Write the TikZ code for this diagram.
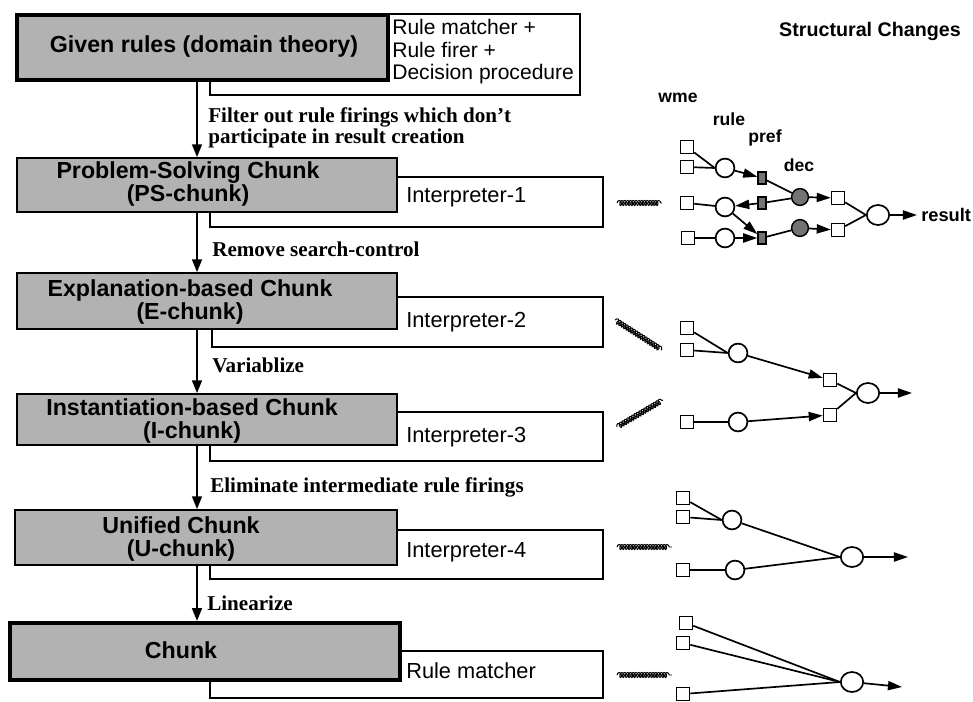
\documentclass[tikz,border=0pt]{standalone}
\usepackage{fontspec}
\setmainfont{Liberation Serif}
\setsansfont{Liberation Sans}
\usetikzlibrary{arrows.meta,fit,decorations.pathmorphing,shapes.geometric}

\tikzset{
  chunkbox/.style={draw, line width=1.3pt, fill=black!30, inner sep=0pt},
  mainbox/.style={chunkbox, line width=3pt},
  interpbox/.style={draw, line width=1.1pt, fill=white, inner sep=0pt},
  chunktext/.style={font=\sffamily\bfseries\fontsize{16.5}{17}\selectfont, align=center, inner sep=0pt},
  interptext/.style={font=\sffamily\fontsize{15.5}{16}\selectfont, anchor=base west, inner sep=0pt},
  steptext/.style={font=\bfseries\fontsize{15}{10}\selectfont, anchor=base west, align=left, inner sep=0pt},
  flow/.style={-{Triangle[length=9pt,width=7pt]}, line width=1.3pt},
  wme/.style={draw, rectangle, line width=1.2pt, fill=white, minimum size=0.32cm, inner sep=0pt},
  rulenode/.style={draw, circle, line width=1.2pt, fill=white, minimum size=0.47cm, inner sep=0pt},
  prefnode/.style={draw, rectangle, line width=1pt, fill=black!55, minimum width=0.2cm, minimum height=0.3cm, inner sep=0pt},
  decnode/.style={draw, circle, line width=1pt, fill=black!55, minimum size=0.42cm, inner sep=0pt},
  endnode/.style={draw, ellipse, line width=1.2pt, fill=white, minimum width=0.56cm, minimum height=0.5cm, inner sep=0pt},
  link/.style={line width=1.2pt},
  fire/.style={line width=1.2pt, -{Triangle[length=10pt,width=6.5pt]}},
  tie/.style={decorate, decoration={coil, aspect=0.6, segment length=2pt, amplitude=1.8pt}, line width=0.7pt},
  netlabel/.style={font=\sffamily\bfseries\fontsize{12.5}{13}\selectfont, inner sep=0pt},
  title/.style={font=\sffamily\bfseries\fontsize{14}{15}\selectfont, inner sep=0pt},
}

\begin{document}
\begin{tikzpicture}[x=0.025cm, y=-0.025cm]
\useasboundingbox (0,0) rectangle (973,702);

% interpreter boxes (behind the chunk boxes)
\node[interpbox, fit={(210,14) (580,95)}] (rm0) {};
\node[interpbox, fit={(210,177) (603,227)}] (ip1) {};
\node[interpbox, fit={(212,297) (603,347)}] (ip2) {};
\node[interpbox, fit={(210,412) (603,461)}] (ip3) {};
\node[interpbox, fit={(210,530) (603,579)}] (ip4) {};
\node[interpbox, fit={(210,651) (603,698)}] (ip5) {};

% chunk boxes
\node[mainbox,  fit={(17,15) (388,80)}]   (gr) {};
\node[chunkbox, fit={(17,158) (397,212)}] (ps) {};
\node[chunkbox, fit={(17,273) (397,329)}] (ec) {};
\node[chunkbox, fit={(17,394) (397,445)}] (ic) {};
\node[chunkbox, fit={(15,510) (397,565)}] (uc) {};
\node[mainbox,  fit={(10,623) (400,680)}] (ch) {};

% chunk labels
\node[chunktext] (grt) at (204,47)  {Given rules (domain theory)};
\node[chunktext] (pst) at (188,184) {Problem-Solving Chunk\\(PS-chunk)};
\node[chunktext] (ect) at (190,302) {Explanation-based Chunk\\(E-chunk)};
\node[chunktext] (ict) at (192,421) {Instantiation-based Chunk\\(I-chunk)};
\node[chunktext] (uct) at (181,539) {Unified Chunk\\(U-chunk)};
\node[chunktext] (cht) at (181,650) {Chunk};

% interpreter labels
\node[font=\sffamily\fontsize{15}{16}\selectfont, align=left, anchor=west, inner sep=0pt]
  (rmt) at (392,52) {Rule matcher +\\Rule firer +\\Decision procedure};
\node[interptext] (ip1t) at (406,203) {Interpreter-1};
\node[interptext] (ip2t) at (406,327) {Interpreter-2};
\node[interptext] (ip3t) at (406,442) {Interpreter-3};
\node[interptext] (ip4t) at (406,557) {Interpreter-4};
\node[interptext] (ip5t) at (406,678) {Rule matcher};

% transformation steps
\coordinate (ax) at (197,0);
\draw[flow] (ax |- gr.south) -- (ax |- ps.north);
\draw[flow] (ax |- ps.south) -- (ax |- ec.north);
\draw[flow] (ax |- ec.south) -- (ax |- ic.north);
\draw[flow] (ax |- ic.south) -- (ax |- uc.north);
\draw[flow] (ax |- uc.south) -- (ax |- ch.north);

\node[steptext, anchor=west] (s1) at (208,128) {Filter out rule firings which don't\\participate in result creation};
\node[steptext] (s2) at (212,257) {Remove search-control};
\node[steptext] (s3) at (212,372) {Variablize};
\node[steptext] (s4) at (210,492) {Eliminate intermediate rule firings};
\node[steptext] (s5) at (207,610) {Linearize};

% heading
\node[title] (hd) at (870,31) {Structural Changes};

% ---- network for the PS-chunk
\node[netlabel] (lw) at (678,98)  {wme};
\node[netlabel] (lr) at (729,119) {rule};
\node[netlabel] (lp) at (765,138) {pref};
\node[netlabel] (ld) at (799,165) {dec};

\node[wme] (a1) at (687,147) {};
\node[wme] (a2) at (687,167) {};
\node[wme] (a3) at (687,203) {};
\node[wme] (a4) at (688,238) {};
\node[rulenode] (r1) at (725,168) {};
\node[rulenode] (r2) at (725,207) {};
\node[rulenode] (r3) at (725,238) {};
\node[prefnode] (p1) at (762,178) {};
\node[prefnode] (p2) at (762,203) {};
\node[prefnode] (p3) at (762,238) {};
\node[decnode] (d1) at (800,197) {};
\node[decnode] (d2) at (800,228) {};
\node[wme] (a5) at (838,198) {};
\node[wme] (a6) at (838,230) {};
\node[endnode] (f1) at (878,215) {};
\coordinate (o1) at (917,215);
\node[netlabel, font=\sffamily\bfseries\fontsize{13}{13}\selectfont, anchor=west] (res) at (921,215) {result};

\draw[link] (a1) -- (r1.west);
\draw[link] (a2) -- (r1.west);
\draw[fire] (r1) -- (p1);
\draw[link] (p1) -- (d1);
\draw[link] (p2) -- (d1);
\draw[fire] (p2) -- (r2);
\draw[link] (a3) -- (r2);
\draw[fire] (r2) -- (p3);
\draw[link] (a4) -- (r3);
\draw[fire] (r3) -- (p3);
\draw[link] (p3) -- (d2);
\draw[fire] (d1) -- (a5);
\draw[fire] (d2) -- (a6);
\draw[link] (a5) -- (f1.west);
\draw[link] (a6) -- (f1.west);
\draw[fire] (f1) -- (o1);

\coordinate (t1a) at (617,203);
\coordinate (t1b) at (662,203);
\draw[tie] (t1a) -- (t1b);

% ---- network for the E-chunk and I-chunk
\node[wme] (b1) at (687,328) {};
\node[wme] (b2) at (687,350) {};
\node[rulenode] (q1) at (738,353) {};
\node[wme] (b3) at (687,422) {};
\node[rulenode] (q2) at (738,422) {};
\node[wme] (b4) at (830,380) {};
\node[wme] (b5) at (830,415) {};
\node[endnode] (f2) at (868,393) {};
\coordinate (o2) at (912,393);

\draw[link] (b1) -- (q1.west);
\draw[link] (b2) -- (q1.west);
\draw[fire] (q1) -- (b4);
\draw[link] (b3) -- (q2);
\draw[fire] (q2) -- (b5);
\draw[link] (b4) -- (f2.west);
\draw[link] (b5) -- (f2.west);
\draw[fire] (f2) -- (o2);

\coordinate (t2a) at (615,320);
\coordinate (t2b) at (662,350);
\draw[tie] (t2a) -- (t2b);
\coordinate (t3a) at (617,427);
\coordinate (t3b) at (663,400);
\draw[tie] (t3a) -- (t3b);

% ---- network for the U-chunk
\node[wme] (c1) at (683,498) {};
\node[wme] (c2) at (683,517) {};
\node[rulenode] (e1) at (732,520) {};
\node[wme] (c3) at (683,570) {};
\node[rulenode] (e2) at (735,570) {};
\node[endnode] (f3) at (852,557) {};
\coordinate (o3) at (908,557);

\draw[link] (c1) -- (e1.west);
\draw[link] (c2) -- (e1.west);
\draw[link] (c3) -- (e2);
\draw[link] (e1) -- (f3.west);
\draw[link] (e2) -- (f3.west);
\draw[fire] (f3) -- (o3);

\coordinate (t4a) at (617,547);
\coordinate (t4b) at (672,547);
\draw[tie] (t4a) -- (t4b);

% ---- network for the final chunk
\node[wme] (g1) at (686,623) {};
\node[wme] (g2) at (683,643) {};
\node[wme] (g3) at (683,694) {};
\node[endnode] (f4) at (852,682) {};
\coordinate (o4) at (902,687);

\draw[link] (g1) -- (f4.west);
\draw[link] (g2) -- (f4.west);
\draw[link] (g3) -- (f4.west);
\draw[fire] (f4) -- (o4);

\coordinate (t5a) at (617,675);
\coordinate (t5b) at (672,675);
\draw[tie] (t5a) -- (t5b);
\end{tikzpicture}
\end{document}
